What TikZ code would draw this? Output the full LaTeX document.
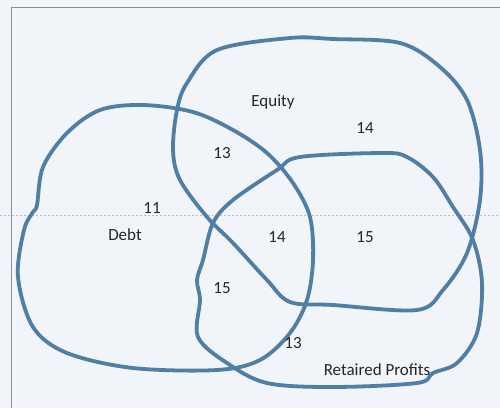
\documentclass[tikz,border=0pt]{standalone}
\usepackage{fontspec}
\setmainfont{Carlito}
\definecolor{bg}{HTML}{F1F4F8}
\definecolor{loopc}{HTML}{4F7FA6}
\definecolor{framec}{HTML}{8A8F96}
\definecolor{dotc}{HTML}{B8BEC6}
\begin{document}
\begin{tikzpicture}[x=1pt,y=-1pt,
  loopline/.style={draw=loopc,line width=3.8pt,line join=round},
  lbl/.style={font=\fontsize{17}{19}\selectfont,text=black!85,inner sep=0pt}]
\fill[bg] (0,0) rectangle (500,408);
\useasboundingbox (0,0) rectangle (500,408);
\draw[framec,line width=1pt] (11,408) -- (11,7) -- (500,7);
\draw[dotc,line width=0.8pt,dash pattern=on 2pt off 2pt] (0,215) -- (500,215);
% Debt
\draw[loopline] plot[smooth cycle,tension=0.55] coordinates {
 (143,105) (100,110) (67,133) (43,167) (37,205) (33,212) (24,230) (18,277) (33,327)
 (67,353) (133,368) (217,370) (260,360) (290,333) (307,300) (313,260)
 (310,217) (293,183) (267,153) (233,130) (193,112)};
% Equity
\draw[loopline] plot[smooth cycle,tension=0.55] coordinates {
 (290,38) (217,50) (187,83) (177,110) (173,150) (180,180) (207,217)
 (233,243) (267,280) (290,302) (333,305) (417,310) (443,290) (467,253)
 (480,200) (480,150) (467,100) (440,67) (400,43) (333,39)};
% Retained profits
\draw[loopline] plot[smooth cycle,tension=0.55] coordinates {
 (383,153) (300,157) (277,170) (233,200) (213,223) (203,260) (197,280)
 (200,300) (198,337) (227,363) (267,383) (333,387) (417,383) (433,373)
 (457,363) (477,333) (482,283) (473,240) (453,207) (433,177) (407,157)};
\node[lbl] (eq) at (273,102) {Equity};
\node[lbl] (n14a) at (365,128) {14};
\node[lbl] (n13a) at (222,153) {13};
\node[lbl] (n11) at (152,208) {11};
\node[lbl] (debt) at (125,235) {Debt};
\node[lbl] (n14b) at (277,237) {14};
\node[lbl] (n15a) at (365,237) {15};
\node[lbl] (n15b) at (222,288) {15};
\node[lbl] (n13b) at (293,343) {13};
\node[lbl] (rp) at (377,370) {Retaired Profits};
\end{tikzpicture}
\end{document}
